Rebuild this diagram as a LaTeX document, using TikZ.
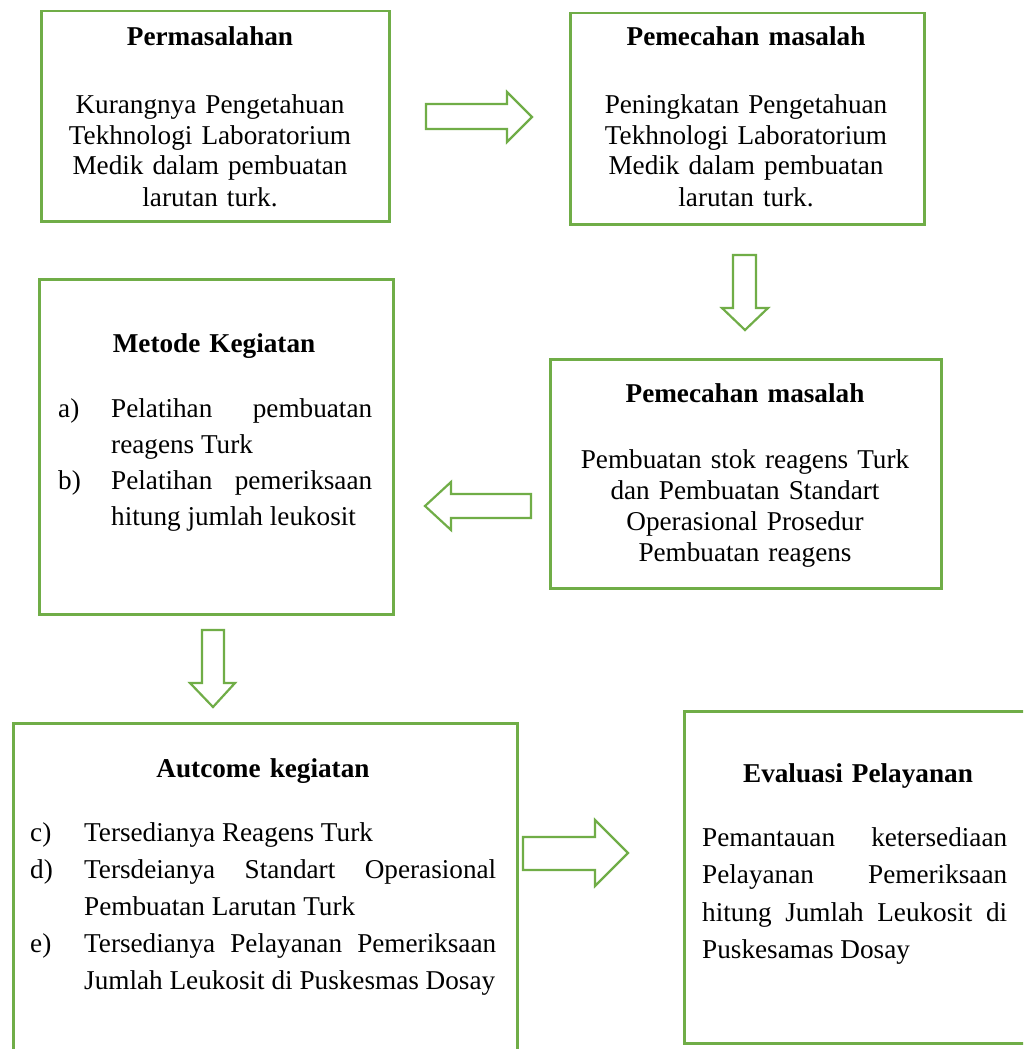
\documentclass[tikz,border=0pt]{standalone}
\usepackage{fontspec}
\setmainfont{Liberation Serif}
\definecolor{boxgreen}{HTML}{70AD47}
\hyphenpenalty=10000
\exhyphenpenalty=10000
\begin{document}
\begin{tikzpicture}[x=1pt,y=-1pt,
  box/.style={draw=boxgreen, line width=2.5pt, rectangle, inner sep=0pt, anchor=north west},
  blockarrow/.style={draw=boxgreen, line width=2.2pt, fill=white, line join=miter},
  ttl/.style={font=\fontsize{27.2}{31}\selectfont\bfseries, inner sep=0pt, anchor=base, text width=400pt, align=center},
  body/.style={font=\fontsize{27.2}{31}\selectfont, inner sep=0pt, anchor=base, text width=400pt, align=center},
  list/.style={inner sep=0pt, anchor=base west, align=justify},
]
\useasboundingbox (0,0) rectangle (1023,1049);
\fill[white] (0,0) rectangle (1023,1049);
\clip (0,0) rectangle (1023,1049);

% boxes
\node[box, minimum width=348pt, minimum height=210pt] (b1) at (40,10) {};
\node[box, minimum width=354pt, minimum height=211pt] (b2) at (569,12) {};
\node[box, minimum width=354pt, minimum height=335pt] (b3) at (38,278) {};
\node[box, minimum width=391pt, minimum height=229pt] (b4) at (549,358) {};
\node[box, minimum width=504pt, minimum height=340pt] (b5) at (12,722) {};
\node[box, minimum width=352pt, minimum height=332pt] (b6) at (683,710) {};

% block arrows
\draw[blockarrow] (426,104) -- (507,104) -- (507,92) -- (532,117) -- (507,142) -- (507,129) -- (426,129) -- cycle;
\draw[blockarrow] (733,255) -- (756,255) -- (756,308) -- (768,308) -- (745,330) -- (722,308) -- (733,308) -- cycle;
\draw[blockarrow] (531,494) -- (451,494) -- (451,482) -- (425,506) -- (451,530) -- (451,518) -- (531,518) -- cycle;
\draw[blockarrow] (202,630) -- (224,630) -- (224,683) -- (235,683) -- (213,707) -- (190,683) -- (202,683) -- cycle;
\draw[blockarrow] (523,837) -- (595,837) -- (595,820) -- (628,853) -- (595,886) -- (595,870) -- (523,870) -- cycle;

% box 1
\node[ttl] (t1) at (210,46) {Permasalahan};
\node[body] (x1) at (210,113) {Kurangnya Pengetahuan\\Tekhnologi Laboratorium\\Medik dalam pembuatan\\larutan turk.};

% box 2
\node[ttl] (t2) at (746,46) {Pemecahan masalah};
\node[body] (x2) at (746,113) {Peningkatan Pengetahuan\\Tekhnologi Laboratorium\\Medik dalam pembuatan\\larutan turk.};

% box 3
\node[ttl] (t3) at (214,352) {Metode Kegiatan};
\node[list, text width=314pt, font=\fontsize{27.2}{36}\selectfont] (x3) at (58,417)
  {\hangindent=53pt\hangafter=1\makebox[53pt][l]{a)}Pelatihan pembuatan\linebreak reagens Turk\par
   \hangindent=53pt\hangafter=1\makebox[53pt][l]{b)}Pelatihan pemeriksaan\linebreak hitung jumlah leukosit\par};

% box 4
\node[ttl] (t4) at (745,402) {Pemecahan masalah};
\node[body] (x4) at (745,468) {Pembuatan stok reagens Turk\\dan Pembuatan Standart\\Operasional Prosedur\\Pembuatan reagens};

% box 5
\node[ttl] (t5) at (263,777) {Autcome kegiatan};
\node[list, text width=466pt, font=\fontsize{27.2}{37}\selectfont] (x5) at (30,841)
  {\hangindent=54pt\hangafter=1\makebox[54pt][l]{c)}Tersedianya Reagens Turk\par
   \hangindent=54pt\hangafter=1\makebox[54pt][l]{d)}Tersdeianya Standart Operasional\linebreak Pembuatan Larutan Turk\par
   \hangindent=54pt\hangafter=1\makebox[54pt][l]{e)}Tersedianya Pelayanan Pemeriksaan\linebreak Jumlah Leukosit di Puskesmas Dosay\par};

% box 6
\node[ttl] (t6) at (858,782) {Evaluasi Pelayanan};
\node[list, text width=305pt, font=\fontsize{27.2}{37.5}\selectfont] (x6) at (702,846)
  {Pemantauan ketersediaan\linebreak Pelayanan Pemeriksaan\linebreak hitung Jumlah Leukosit di\linebreak Puskesamas Dosay\par};
\end{tikzpicture}
\end{document}
